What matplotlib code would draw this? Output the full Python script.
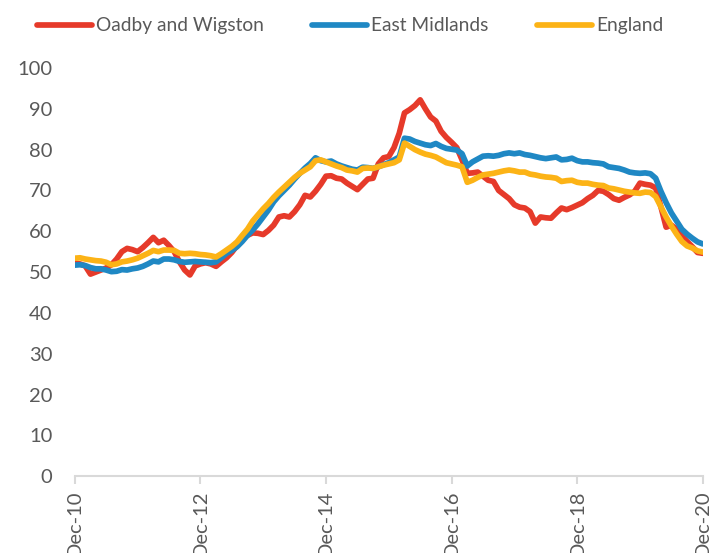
import matplotlib.pyplot as plt
import numpy as np

# monthly values, Dec-10 .. Dec-20
oadby = [52.2, 52.0, 51.5, 49.5, 50.0, 50.5, 51.0, 51.8, 53.2, 55.0,
         55.8, 55.5, 55.0, 56.0, 57.2, 58.5, 57.2, 57.8, 56.5, 55.0,
         52.5, 50.5, 49.3, 51.5, 52.0, 52.3, 52.0, 51.4, 52.5, 53.5,
         54.8, 56.5, 58.5, 59.0, 59.6, 59.5, 59.2, 60.2, 61.5, 63.5,
         63.8, 63.5, 64.8, 66.5, 68.8, 68.4, 69.8, 71.5, 73.5, 73.6,
         73.0, 72.8, 71.8, 71.0, 70.2, 71.5, 72.8, 73.0, 76.5, 78.0,
         78.3, 80.5, 84.0, 89.0, 89.8, 90.8, 92.2, 90.0, 88.0, 87.0,
         84.5, 83.0, 81.8, 80.5, 77.5, 74.2, 74.3, 74.5, 73.5, 72.5,
         72.2, 70.0, 69.0, 68.0, 66.5, 65.9, 65.7, 64.8, 62.0, 63.5,
         63.3, 63.2, 64.5, 65.7, 65.3, 65.8, 66.4, 67.0, 68.0, 68.8,
         70.0, 69.8, 69.0, 68.0, 67.6, 68.3, 68.9, 69.8, 71.8, 71.5,
         71.3, 70.6, 66.0, 61.0, 61.5, 60.5, 58.8, 57.5, 56.2, 54.8,
         54.6]
east_mid = [51.7, 51.8, 51.6, 51.1, 50.8, 50.8, 50.5, 50.1, 50.2, 50.6,
            50.5, 50.8, 51.0, 51.4, 52.0, 52.7, 52.5, 53.2, 53.2, 53.0,
            52.6, 52.4, 52.5, 52.6, 52.5, 52.4, 52.3, 52.5, 53.5, 54.6,
            55.3, 56.2, 57.5, 59.0, 60.3, 61.8, 63.5, 65.2, 67.2, 68.7,
            70.0, 71.3, 72.8, 74.2, 75.5, 76.6, 78.0, 77.3, 77.0, 77.2,
            76.5, 76.0, 75.6, 75.2, 75.0, 75.7, 75.6, 75.4, 75.8, 76.3,
            76.8, 77.5, 78.2, 82.8, 82.6, 82.0, 81.6, 81.2, 81.0, 81.5,
            80.8, 80.3, 80.1, 79.9, 79.0, 76.0, 77.0, 77.7, 78.4, 78.5,
            78.4, 78.6, 79.0, 79.2, 79.0, 79.2, 78.8, 78.6, 78.3, 78.0,
            77.8, 78.0, 78.2, 77.5, 77.6, 77.9, 77.3, 77.0, 77.0, 76.8,
            76.7, 76.5, 75.8, 75.6, 75.4, 75.0, 74.5, 74.3, 74.2, 74.3,
            74.1, 73.0, 69.8, 67.0, 64.5, 62.5, 60.5, 59.3, 58.3, 57.4,
            56.9]
england = [53.4, 53.5, 53.2, 53.0, 52.8, 52.7, 52.4, 51.8, 52.0, 52.5,
           52.7, 53.0, 53.4, 54.0, 54.6, 55.3, 55.0, 55.4, 55.4, 55.3,
           54.6, 54.5, 54.6, 54.5, 54.3, 54.2, 54.0, 53.7, 54.5, 55.4,
           56.3, 57.4, 59.0, 60.5, 62.5, 64.0, 65.5, 66.8, 68.3, 69.6,
           70.8, 72.0, 73.2, 74.2, 75.0, 75.8, 77.3, 77.5, 77.0, 76.5,
           76.0, 75.6, 75.0, 74.8, 74.5, 75.4, 75.5, 75.4, 75.8, 76.2,
           76.5, 76.8, 77.5, 81.6, 80.8, 80.0, 79.4, 78.9, 78.6, 78.2,
           77.5, 76.8, 76.5, 76.2, 75.8, 72.0, 72.5, 73.2, 73.8, 74.0,
           74.2, 74.5, 74.8, 75.0, 74.8, 74.5, 74.5, 74.0, 73.8, 73.5,
           73.3, 73.2, 73.0, 72.2, 72.4, 72.5, 72.0, 71.8, 71.8, 71.5,
           71.3, 71.2, 70.6, 70.4, 70.1, 69.8, 69.6, 69.4, 69.3, 69.6,
           69.5, 68.5, 66.0, 63.5, 61.3, 59.3, 57.5, 56.4, 55.9, 55.2,
           54.9]
tick_labels = ["Dec-10", "Dec-12", "Dec-14", "Dec-16", "Dec-18", "Dec-20"]

names = ["Oadby and Wigston", "East Midlands", "England"]
colors = ["#e63a2a", "#1f88c4", "#fcb316"]
txt = "#595959"

plt.rcParams['font.family'] = ['Lato', 'DejaVu Sans']

fig = plt.figure(figsize=(7.26, 5.53), dpi=100)
ax = fig.add_axes([0.103, 0.139, 0.865, 0.738])

months = np.arange(len(oadby))
for vals, name, c in zip([oadby, east_mid, england], names, colors):
    ax.plot(months, vals, color=c, lw=4.1, label=name, solid_joinstyle='round',
            solid_capstyle='round')

ax.set_xlim(0, 120)
ax.set_ylim(0, 100)
ax.set_yticks(range(0, 101, 10))
ax.set_xticks(range(0, 121, 24))
ax.set_xticklabels(tick_labels, rotation=90)

for s in ['top', 'right', 'left']:
    ax.spines[s].set_visible(False)
ax.spines['bottom'].set_color('#d9d9d9')
ax.spines['bottom'].set_linewidth(1.5)
ax.tick_params(axis='y', length=0, pad=16, labelsize=14.5, labelcolor=txt)
# the reference crops the date labels at the bottom edge, kept the same here
ax.tick_params(axis='x', length=6, width=1.5, color='#d9d9d9', pad=4,
               labelsize=14.5, labelcolor=txt)

fig.legend(loc='upper center', bbox_to_anchor=(0.482, 1.0), ncol=3, frameon=False,
           fontsize=13.8, labelcolor=txt, handlelength=2.9, handletextpad=0.2,
           columnspacing=2.5)

fig.savefig('out.png', dpi=100)
